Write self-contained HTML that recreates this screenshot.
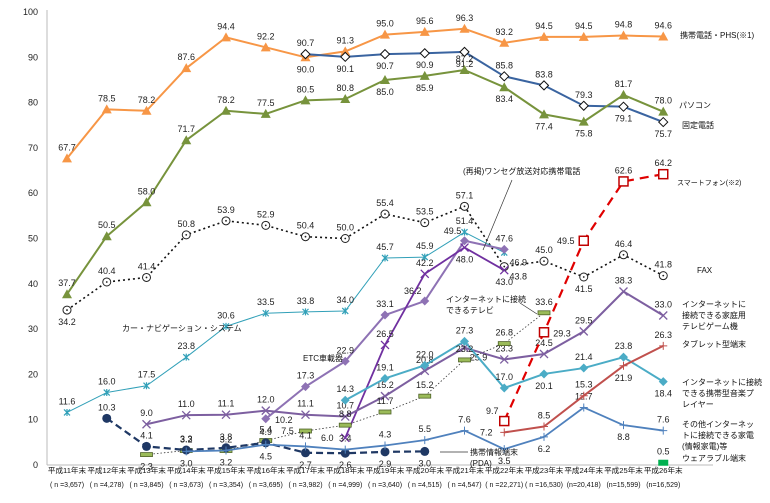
<!DOCTYPE html>
<html><head><meta charset="utf-8">
<style>
body{margin:0;background:#fff;}
svg{display:block;font-family:"Liberation Sans","Noto Sans CJK JP",sans-serif;}
.v{font-size:9px;fill:#222;}
.j{font-size:8px;fill:#111;}
</style></head>
<body>
<svg id="chart" width="770" height="503" viewBox="0 0 770 503">
<g id="axes"></g>
<g id="plot"></g>
<g id="notes">
<text class="j" x="680" y="38">携帯電話・PHS(※1)</text>
<text class="j" x="679" y="108">パソコン</text>
<text class="j" x="682" y="128">固定電話</text>
<text class="j" x="677" y="185" style="font-size:7px">スマートフォン(※2)</text>
<text class="j" x="697" y="273">FAX</text>
<text class="j" x="682" y="307"><tspan x="682">インターネットに</tspan><tspan x="682" dy="11">接続できる家庭用</tspan><tspan x="682" dy="11">テレビゲーム機</tspan></text>
<text class="j" x="682" y="347">タブレット型端末</text>
<text class="j" x="682" y="385"><tspan x="682">インターネットに接続</tspan><tspan x="682" dy="11">できる携帯型音楽プ</tspan><tspan x="682" dy="11">レイヤー</tspan></text>
<text class="j" x="682" y="427"><tspan x="682">その他インターネッ</tspan><tspan x="682" dy="11">トに接続できる家電</tspan><tspan x="682" dy="11">(情報家電)等</tspan></text>
<text class="j" x="682" y="461">ウェアラブル端末</text>
<text class="j" x="463" y="174">(再掲)ワンセグ放送対応携帯電話</text>
<line x1="512" y1="180" x2="483" y2="250" stroke="#333" stroke-width="0.7"/>
<text class="j" x="446" y="302"><tspan x="446">インターネットに接続</tspan><tspan x="446" dy="11">できるテレビ</tspan></text>
<line x1="520" y1="303" x2="537" y2="314" stroke="#333" stroke-width="0.7"/>
<text class="j" x="303" y="361">ETC車載器</text>
<text class="j" x="122" y="331">カー・ナビゲーション・システム</text>
<text class="j" x="470" y="455"><tspan x="470">携帯情報端末</tspan><tspan x="470" dy="11">(PDA)</tspan></text>
<line x1="440" y1="452" x2="468" y2="452" stroke="#333" stroke-width="0.7"/>
</g>
</svg>
<script>
const years = ["平成11年末","平成12年末","平成13年末","平成14年末","平成15年末","平成16年末","平成17年末","平成18年末","平成19年末","平成20年末","平成21年末","平成22年末","平成23年末","平成24年末","平成25年末","平成26年末"];
const sampleSizes = ["( n =3,657)","( n =4,278)","( n =3,845)","( n =3,673)","( n =3,354)","( n =3,695)","( n =3,982)","( n =4,999)","( n =3,640)","( n =4,515)","( n =4,547)","( n =22,271)","( n =16,530)","(n=20,418)","(n=15,599)","(n=16,529)"];
const yTicks = [0,10,20,30,40,50,60,70,80,90,100];
const mobile = [67.7,78.5,78.2,87.6,94.4,92.2,90.0,91.3,95.0,95.6,96.3,93.2,94.5,94.5,94.8,94.6];
const fixedPhone = [null,null,null,null,null,null,90.7,90.1,90.7,90.9,91.2,85.8,83.8,79.3,79.1,75.7];
const pc = [37.7,50.5,58.0,71.7,78.2,77.5,80.5,80.8,85.0,85.9,87.2,83.4,77.4,75.8,81.7,78.0];
const fax = [34.2,40.4,41.4,50.8,53.9,52.9,50.4,50.0,55.4,53.5,57.1,43.8,45.0,41.5,46.4,41.8];
const carNav = [11.6,16.0,17.5,23.8,30.6,33.5,33.8,34.0,45.7,45.9,51.4,46.9,null,null,null,null];
const etc = [null,null,null,null,null,10.2,17.3,22.9,33.1,36.2,49.5,47.6,null,null,null,null];
const oneSeg = [null,null,null,null,null,null,null,6.0,26.5,42.2,48.0,43.0,null,null,null,null];
const gameConsole = [null,null,9.0,11.0,11.1,12.0,11.1,10.7,15.2,20.8,25.9,23.3,24.5,29.5,38.3,33.0];
const musicPlayer = [null,null,null,null,null,null,null,14.3,19.1,22.0,27.3,17.0,20.1,21.4,23.8,18.4];
const internetTv = [null,null,2.3,3.2,3.2,5.4,7.5,8.8,11.7,15.2,23.2,26.8,33.6,null,null,null];
const pda = [null,10.3,4.1,3.3,3.8,4.9,2.7,2.6,2.9,3.0,null,null,null,null,null,null];
const appliance = [null,null,null,3.0,3.2,4.5,4.1,3.4,4.3,5.5,7.6,3.5,6.2,12.7,8.8,7.6];
const smartphone = [null,null,null,null,null,null,null,null,null,null,null,9.7,29.3,49.5,62.6,64.2];
const tablet = [null,null,null,null,null,null,null,null,null,null,null,7.2,8.5,15.3,21.9,26.3];
const wearable = [null,null,null,null,null,null,null,null,null,null,null,null,null,null,null,0.5];

const X0=67, DX=39.75, Y0=465, KY=4.53;
const xs = i => X0 + i*DX;
const ys = v => Y0 - v*KY;
const NS="http://www.w3.org/2000/svg";
function mk(tag, attrs, parent){const e=document.createElementNS(NS,tag);for(const k in attrs)e.setAttribute(k,attrs[k]);parent.appendChild(e);return e;}
const axes=document.getElementById('axes'), plot=document.getElementById('plot');

const yAxis = mk('line',{x1:47,y1:10,x2:47,y2:Y0,stroke:'#bbb','stroke-width':1},axes);


const xAxis = mk('line',{x1:47,y1:Y0,x2:713,y2:Y0,stroke:'#bbb','stroke-width':1},axes);


yTicks.forEach(t=>{
  const tx=mk('text',{x:38,y:ys(t)+3,'text-anchor':'end',class:'v'},axes);tx.textContent=t;
  
  
});
years.forEach((y,i)=>{
  const t=mk('text',{x:xs(i),y:473,'text-anchor':'middle',class:'j',style:'font-size:7.6px'},axes);t.textContent=y;
  
  
  const n=mk('text',{x:xs(i),y:487,'text-anchor':'middle',class:'j',style:'font-size:7px'},axes);n.textContent=sampleSizes[i];
  
  
});

function marker(type,x,y,color,g){
  let m;
  if(type==='tri') m=mk('path',{d:`M${x} ${y-5}L${x+5} ${y+4}L${x-5} ${y+4}Z`,fill:color},g);
  else if(type==='odia') m=mk('path',{d:`M${x} ${y-4.5}L${x+4.5} ${y}L${x} ${y+4.5}L${x-4.5} ${y}Z`,fill:'#fff',stroke:'#111','stroke-width':1},g);
  else if(type==='dia') m=mk('path',{d:`M${x} ${y-4.5}L${x+4.5} ${y}L${x} ${y+4.5}L${x-4.5} ${y}Z`,fill:color},g);
  else if(type==='ocirc'){m=mk('circle',{cx:x,cy:y,r:4,fill:'#fff',stroke:'#222','stroke-width':1},g);mk('circle',{cx:x,cy:y,r:0.9,fill:'#222'},g);}
  else if(type==='circ') m=mk('circle',{cx:x,cy:y,r:4.5,fill:color},g);
  else if(type==='x'){m=mk('path',{d:`M${x-4} ${y-4}L${x+4} ${y+4}M${x+4} ${y-4}L${x-4} ${y+4}`,stroke:color,'stroke-width':1.3},g);}
  else if(type==='star'){m=mk('path',{d:`M${x-3} ${y-3}L${x+3} ${y+3}M${x+3} ${y-3}L${x-3} ${y+3}M${x} ${y-3.5}L${x} ${y+3.5}`,stroke:color,'stroke-width':1.2},g);}
  else if(type==='plus'){m=mk('path',{d:`M${x-4} ${y}L${x+4} ${y}M${x} ${y-4}L${x} ${y+4}`,stroke:color,'stroke-width':1},g);}
  else if(type==='dash') m=mk('rect',{x:x-6,y:y-2,width:12,height:4,fill:'#9bbb59',stroke:'#4f6228','stroke-width':0.8},g);
  else if(type==='osq') m=mk('rect',{x:x-4.5,y:y-4.5,width:9,height:9,fill:'#fff',stroke:'#c00000','stroke-width':1.5},g);
  else if(type==='sq') m=mk('rect',{x:x-5,y:y-3,width:10,height:6,fill:'#00b050'},g);
  
  
}

function series(name,data,color,width,dash,mtype,pos){
  const g=mk('g',{},plot);
  
  
  let d='';let started=false;
  data.forEach((v,i)=>{if(v===null){started=false;return;}d+=(started?'L':'M')+xs(i)+' '+ys(v);started=true;});
  if(d){const p=mk('path',{d:d,fill:'none',stroke:color,'stroke-width':width,'stroke-dasharray':dash||'none','stroke-linejoin':'round'},g);
    
    }
  let k=0;
  data.forEach((v,i)=>{
    if(v===null)return;
    marker(mtype,xs(i),ys(v),color,g);
    const ps=(pos&&pos[k])||'a';k++;
    let dx=0,dy=-8;
    if(ps==='b')dy=15; else if(ps==='l'){dx=-18;dy=3;} else if(ps==='r'){dx=18;dy=4;} else if(ps==='L'){dx=-14;dy=12;} else if(ps==='R'){dx=14;dy=13;} else if(ps==='U'){dx=-12;dy=-7;}
    const t=mk('text',{x:xs(i)+dx,y:ys(v)+dy,'text-anchor':'middle',class:'v'},g);
    t.textContent=v.toFixed(1);
    
    
  });
}

series('mobile-phs-series',mobile,'#f79646',2,null,'tri','aaaaaabaaaaaaaaa');
series('fixed-phone-series',fixedPhone,'#3a64a0',2,null,'odia','abbbbaaabb');
series('pc-series',pc,'#77933c',2,null,'tri','aaaaaaaabbabbbaa');
series('fax-series',fax,'#111',1.6,'2 3','ocirc','baaaaaaaaaaRabaa');
series('car-navigation-series',carNav,'#31a0b8',1,null,'star','aaaaaaaaaaaR');
series('etc-series',etc,'#8e72b4',2,null,'dia','raaaUUa');
series('oneseg-series',oneSeg,'#7030a0',1.8,null,'x','laabb');
series('game-console-series',gameConsole,'#7d5fa0',2,null,'x','aaaaaaaaRaaaaa');
series('music-player-series',musicPlayer,'#4bacc6',2,null,'dia','aaaaabaab');
series('internet-tv-series',internetTv,'#333',0.8,'1.5 2','dash','baaalaaaaaaa');
series('pda-series',pda,'#1f3864',2.2,'7 4','circ','aaaaabbbb');
series('other-appliance-series',appliance,'#4f81bd',1.8,null,'plus','bbbaaaaabbaba');
series('smartphone-series',smartphone,'#e00000',2.2,'9 6','osq','Urlaa');
series('tablet-series',tablet,'#c0504d',2,null,'plus','laaba');
series('wearable-series',wearable,'#00b050',1,null,'sq','a');
</script>
</body></html>
